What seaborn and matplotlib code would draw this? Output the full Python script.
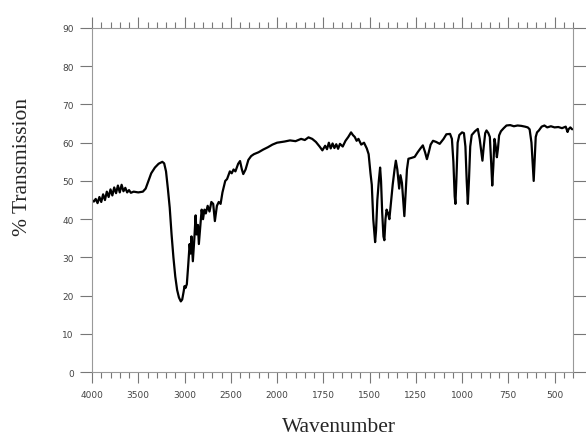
import numpy as np
import pandas as pd
import seaborn as sns
from matplotlib import pyplot as plt

# wavenumbers (cm-1) and % transmission
wavenumber = [
    4000, 3980, 3960, 3940, 3920, 3900, 3880, 3860, 3840, 3820, 3800, 3780,
    3760, 3740, 3720, 3700, 3680, 3660, 3640, 3620, 3600, 3580, 3550, 3500,
    3450, 3420, 3390, 3360, 3320, 3280, 3240, 3220, 3200, 3180, 3160, 3140,
    3120, 3100, 3080, 3060, 3040, 3025, 3010, 3000, 2990, 2975, 2960, 2945,
    2935, 2925, 2910, 2895, 2880, 2870, 2855, 2845, 2830, 2815, 2800, 2785,
    2770, 2750, 2730, 2710, 2690, 2672, 2650, 2630, 2610, 2590, 2560, 2540,
    2510, 2490, 2470, 2450, 2420, 2400, 2380, 2365, 2340, 2310, 2280, 2250,
    2200, 2150, 2100, 2050, 2000, 1960, 1930, 1900, 1870, 1850, 1830, 1810,
    1790, 1770, 1755, 1740, 1730, 1720, 1710, 1700, 1690, 1680, 1670, 1660,
    1645, 1630, 1615, 1600, 1590, 1580, 1570, 1560, 1545, 1530, 1515, 1505,
    1495, 1488, 1480, 1470, 1465, 1458, 1450, 1443, 1438, 1432, 1425, 1420,
    1414, 1408, 1400, 1393, 1385, 1375, 1365, 1358, 1350, 1340, 1333, 1325,
    1318, 1312, 1305, 1298, 1290, 1275, 1256, 1240, 1225, 1212, 1200, 1190,
    1180, 1170, 1157, 1140, 1121, 1100, 1085, 1065, 1055, 1047, 1040, 1036,
    1031, 1024, 1015, 1000, 990, 982, 975, 969, 963, 956, 948, 930,
    915, 905, 897, 890, 884, 875, 868, 858, 850, 843, 837, 831,
    825, 818, 812, 806, 800, 790, 775, 760, 740, 720, 700, 680,
    660, 645, 635, 625, 618, 613, 608, 602, 595, 585, 570, 555,
    540, 520, 500, 480, 460, 440, 430, 425, 415, 405,
]
transmission = [
    45.0, 44.6, 45.3, 44.2, 45.8, 44.5, 46.5, 45.0, 47.2, 45.8, 47.8, 46.2,
    48.3, 46.8, 48.8, 47.0, 49.0, 47.3, 48.2, 47.0, 47.6, 46.9, 47.2, 47.0,
    47.2, 48.0, 50.0, 52.0, 53.5, 54.5, 55.0, 54.6, 52.5, 48.0, 43.0, 36.0,
    30.0, 25.0, 21.5, 19.5, 18.5, 19.0, 21.0, 22.5, 22.0, 23.0, 28.0, 33.5,
    31.0, 35.5, 29.0, 34.5, 41.0, 36.0, 38.5, 33.5, 38.0, 42.5, 40.0, 42.5,
    41.5, 43.5, 42.0, 44.5, 44.0, 39.5, 43.5, 44.5, 44.0, 47.0, 50.0, 50.5,
    52.5, 52.0, 53.0, 52.5, 54.5, 55.2, 53.0, 51.8, 53.0, 55.5, 56.5, 57.0,
    57.5, 58.2, 58.8, 59.5, 60.0, 60.3, 60.6, 60.4, 61.0, 60.7, 61.4, 61.0,
    60.2, 59.0, 58.0, 59.2, 58.3, 60.0, 58.5, 59.8, 58.6, 59.6, 58.4, 59.7,
    59.0, 60.5, 61.5, 62.7, 62.0, 61.5, 60.5, 61.0, 59.5, 60.0, 58.5, 57.0,
    52.0, 49.0, 40.0, 34.0, 37.0, 45.0, 50.0, 53.5, 50.0, 42.0, 35.5, 34.5,
    40.0, 42.5, 41.5, 40.0, 44.0, 49.0, 53.0, 55.3, 53.0, 48.0, 51.5, 49.5,
    45.0, 40.8, 47.0, 53.0, 55.8, 56.0, 56.3, 57.5, 58.5, 59.3, 57.5, 55.7,
    57.5, 59.5, 60.5, 60.2, 59.7, 61.0, 62.2, 62.3, 61.0, 55.0, 46.0, 44.0,
    50.0, 60.0, 62.0, 62.7, 62.5, 59.0, 50.0, 44.0, 50.0, 59.0, 62.0, 63.0,
    63.6, 61.0, 58.0, 55.3, 58.5, 62.5, 63.2, 62.5, 61.5, 55.0, 48.8, 54.0,
    61.0, 59.0, 56.2, 58.5, 61.9, 63.0, 63.8, 64.5, 64.6, 64.3, 64.5, 64.4,
    64.2, 64.0, 63.5, 60.0, 54.0, 50.0, 55.0, 61.5, 62.7, 63.2, 64.2, 64.5,
    64.0, 64.3, 64.0, 64.1, 63.8, 64.2, 62.8, 63.5, 64.0, 63.5,
]
major_ticks = [4000, 3500, 3000, 2500, 2000, 1750, 1500, 1250, 1000, 750, 500]
y_ticks = [0, 10, 20, 30, 40, 50, 60, 70, 80, 90]

spec = pd.DataFrame({'Wavenumber': wavenumber, 'Transmission': transmission})


# the chart paper halves the scale below 2000 cm-1
def fwd(w):
    w = np.asarray(w, dtype=float)
    return np.where(w < 2000, w / 250.0, 8 + (w - 2000) / 500.0)


def inv(p):
    p = np.asarray(p, dtype=float)
    return np.where(p < 8, p * 250.0, 2000 + (p - 8) * 500.0)


sns.set_style('ticks')

fig = plt.figure(figsize=(5.86, 4.39), dpi=100)
ax = fig.add_axes([0.157, 0.150, 0.821, 0.784])

sns.lineplot(data=spec, x='Wavenumber', y='Transmission', color='black',
             linewidth=1.6, ax=ax)

ax.set_xscale('function', functions=(fwd, inv))
ax.set_xlim(4000, 400)
ax.set_ylim(0, 90)

minor = list(range(3900, 2000, -100)) + list(range(1950, 399, -50))
minor = [m for m in minor if m not in major_ticks]
ax.set_xticks(major_ticks)
ax.set_xticks(minor, minor=True)
ax.set_xticklabels([str(t) for t in major_ticks])
ax.set_yticks(y_ticks)

ax.tick_params(axis='x', which='both', top=True, direction='out',
               colors='#777', labelcolor='#444', labelsize=6.5, width=0.8)
ax.tick_params(axis='x', which='major', length=8, pad=5)
ax.tick_params(axis='x', which='minor', length=4)
ax.tick_params(axis='y', right=True, direction='out', length=9, width=0.8,
               colors='#777', labelcolor='#444', labelsize=6.5, pad=4)

for s in ax.spines.values():
    s.set_color('#999')
    s.set_linewidth(0.8)
    s.set_linestyle((0, (1, 1)))

ax.set_xlabel('Wavenumber', family='Liberation Serif', fontsize=15.5)
ax.set_ylabel('% Transmission', family='Liberation Serif', fontsize=15.5)
ax.xaxis.set_label_coords(0.513, -0.13)
ax.yaxis.set_label_coords(-0.125, 0.60)

fig.savefig('out.png', dpi=100)
